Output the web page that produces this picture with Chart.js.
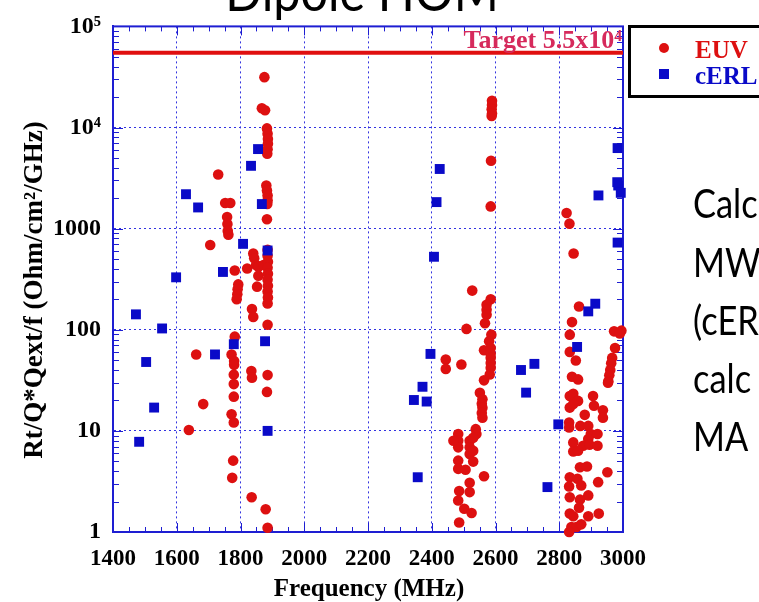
<!DOCTYPE html>
<html>
<head>
<meta charset="utf-8">
<script src="https://cdn.jsdelivr.net/npm/chart.js@4.4.1/dist/chart.umd.min.js"></script>
<style>
html, body { margin: 0; padding: 0; background: #fff; overflow: hidden; }
#homChart { display: block; }
</style>
</head>
<body>
<canvas id="homChart" width="759" height="602"></canvas>
<script>
// EUV (red dots) - frequency in MHz, Rt/Q*Qext/f
var euvFreq = [
  1638,1683,1661,1705,1730,1752,1768,1758,1759,1760,1762,1782,1793,1791,1790,1788,1782,1772,1780,1780,1779,1779,1779,1772,1779,1777,1774,
  1835,1879,1885,1834,1836,1885,1883,1885,1836,1840,1840,1843,1849,1821,1856,1856,1852,1872,
  1885,1885,1886,1885,1886,1885,1886,1885,1886,1885,
  1875,1867,1877,1883,1885,1886,1886,1885,1884,1881,1883,1885,1885,1884,1883,
  2527,2585,2572,2572,2572,2567,2509,2587,2580,2564,2585,2585,2585,2585,2585,2444,2444,2493,2582,2564,2551,2559,2557,2559,2557,2559,
  2538,2540,2483,2483,2483,2468,2519,2519,2519,2530,2530,2483,2530,2483,2506,2564,2519,2486,2519,2483,2502,2525,2486,
  2589,2589,2588,2589,2588,2586,2585,
  2823,2832,2845,2862,2840,2833,2833,2852,2840,2859,2833,2844,2859,2833,2844,2831,2831,2866,2880,2891,2899,2920,2906,2909,2937,2937,
  2844,2891,2875,2844,2895,2920,2859,2865,2887,2833,2857,2831,2922,2951,2869,2833,2891,2865,2862,2833,2924,2891,2844,2838,2854,2831,2869,
  2972,2995,2990,2975,2966,2963,2960,2957,2954,2953
];
var euvVal = [
  10.2,18.4,57,690,3430,1790,1790,1300,1110,950,870,386,281,251,224,200,85.5,57,49,45,36,29,21.8,14.6,12.1,5.08,3.43,
  2.21,1.68,1.1,39,33.5,35.6,24.3,112,160,134,568,510,437,404,420,343,267,437,
  618,539,470,410,359,313,273,239,208,182,
  31500,15500,14800,9800,8700,7700,6900,6100,5500,2670,2380,2130,1900,1750,1240,
  244,200,177,158,141,116,102,89.5,77,62.7,66,58,52.8,47,42,50.8,41,45.4,36.2,31.6,23.8,20.6,18.5,16.9,15,13.5,
  10.4,9.3,9.3,8.0,6.87,8.0,8.0,6.9,5.9,6.37,8.55,5.08,4.97,4.21,4.12,3.56,3.07,2.54,2.48,2.05,1.70,1.54,1.24,
  18400,16700,15200,13800,13000,4700,1660,
  1426,1120,568,170,119,89.5,60.4,49.7,34.3,32.3,22.1,23.3,19.8,17,18.4,12.1,10.8,11.2,14.4,11.2,9.3,9.3,22.1,17.7,16.0,13.5,
  7.69,8.3,7.13,6.27,7.3,7.13,6.37,4.37,4.44,3.48,3.36,2.82,3.11,3.9,2.89,2.21,2.3,2.09,1.74,1.52,1.52,1.43,1.43,1.12,1.12,1.0,1.19,
  96.4,98,92,66,52.7,46.6,40.1,35.4,31,29.9
];

// cERL (blue squares)
var cerlFreq = [
  1472,1504,1554,1529,1482,1598,1629,1667,1720,1745,1779,1808,1833,1855,1867,1885,1877,1885,
  2425,2415,2407,2396,2371,2344,2384,2356,
  2680,2722,2696,2797,2763,2856,2891,2913,2923,2983,2985,2993,2982,2983
];
var cerlVal = [
  142,48,103,17,7.8,330,2190,1620,57,373,72,707,4180,6120,1750,608,77,10.0,
  3890,1830,527,57.7,27.3,20.2,19.5,3.48,
  40,46,23.9,11.6,2.78,67.6,152,181,2130,6260,2670,2260,2880,728
];

// design target
var targetFreq = [1400, 3000];
var targetVal = [55000, 55000];

// axes
var xTicks = [1400, 1600, 1800, 2000, 2200, 2400, 2600, 2800, 3000];
var yTicks = [1, 10, 100, 1000, 10000, 100000];
var yLabels = ['1', '10', '100', '1000', '10\u2074', '10\u2075'];

var serif = '"Liberation Serif", "Times New Roman", serif';
var axisBlue = '#1e1ed2';
var gridBlue = '#3232e0';
var euvRed = '#dd1010';
var cerlBlue = '#0a0ac8';

function toPoints(xs, ys) {
  return xs.map(function(x, i) { return { x: x, y: ys[i] }; });
}

// frame + inward minor ticks like the original plot
var frameTicks = {
  id: 'frameTicks',
  beforeDatasetsDraw: function(chart) {
    var ctx = chart.ctx, ca = chart.chartArea;
    var xs = chart.scales.x, ys = chart.scales.y;
    ctx.save();
    ctx.strokeStyle = axisBlue;
    ctx.lineWidth = 1;
    ctx.beginPath();
    for (var f = 1400; f <= 3000; f += 50) {
      var px = Math.round(xs.getPixelForValue(f)) + 0.5;
      var len = (f % 200 === 0) ? 9 : 5;
      ctx.moveTo(px, ca.bottom); ctx.lineTo(px, ca.bottom - len);
      ctx.moveTo(px, ca.top); ctx.lineTo(px, ca.top + len);
    }
    for (var k = 0; k < 5; k++) {
      for (var m = 1; m < 10; m++) {
        var py = Math.round(ys.getPixelForValue(m * Math.pow(10, k))) + 0.5;
        var l2 = (m === 1) ? 10 : 6;
        ctx.moveTo(ca.left, py); ctx.lineTo(ca.left + l2, py);
        ctx.moveTo(ca.right, py); ctx.lineTo(ca.right - l2, py);
      }
    }
    ctx.stroke();
    ctx.lineWidth = 2;
    ctx.strokeRect(ca.left, ca.top, ca.right - ca.left, ca.bottom - ca.top);
    ctx.restore();
  },
  afterDraw: function(chart) {
    var ctx = chart.ctx, ca = chart.chartArea;
    var ys = chart.scales.y;
    ctx.save();

    // target label
    ctx.fillStyle = '#d62a5c';
    ctx.font = 'bold 26px ' + serif;
    ctx.textAlign = 'right';
    ctx.textBaseline = 'alphabetic';
    ctx.fillText('Target 5.5x10\u2074', ca.right - 1, ys.getPixelForValue(targetVal[0]) - 5);

    // axis titles
    ctx.fillStyle = '#000';
    ctx.textAlign = 'center';
    ctx.font = 'bold 25px ' + serif;
    ctx.fillText('Frequency (MHz)', 369, 596);
    ctx.save();
    ctx.translate(35, 290);
    ctx.rotate(-Math.PI / 2);
    ctx.textBaseline = 'middle';
    ctx.font = 'bold 27px ' + serif;
    ctx.fillText('Rt/Q*Qext/f (Ohm/cm\u00b2/GHz)', 0, 0);
    ctx.restore();

    // legend box
    ctx.lineWidth = 3;
    ctx.strokeStyle = '#000';
    ctx.strokeRect(629.5, 26.5, 150, 70);
    ctx.fillStyle = euvRed;
    ctx.beginPath(); ctx.arc(664, 48, 5, 0, Math.PI * 2); ctx.fill();
    ctx.fillStyle = cerlBlue;
    ctx.fillRect(659, 69, 10, 10);
    ctx.font = 'bold 25px ' + serif;
    ctx.textAlign = 'left';
    ctx.textBaseline = 'alphabetic';
    ctx.fillStyle = euvRed;
    ctx.fillText('EUV', 695, 58);
    ctx.fillStyle = cerlBlue;
    ctx.fillText('cERL', 695, 84);

    // slide text around the plot
    ctx.fillStyle = '#000';
    ctx.save();
    ctx.translate(362, 11);
    ctx.scale(0.9, 1);
    ctx.textAlign = 'center';
    ctx.font = '54px Lato, "Open Sans", sans-serif';
    ctx.fillText('Dipole HOM', 0, 0);
    ctx.restore();

    var side = ['Calc', 'MW', '(cER', 'calc', 'MA'];
    var base = [218, 277, 335, 393, 451];
    ctx.font = '41px Lato, "Open Sans", sans-serif';
    side.forEach(function(s, i) {
      ctx.save();
      ctx.translate(693, base[i]);
      ctx.scale(0.84, 1);
      ctx.fillText(s, 0, 0);
      ctx.restore();
    });
    ctx.restore();
  }
};

new Chart(document.getElementById('homChart'), {
  type: 'scatter',
  data: {
    datasets: [
      {
        label: 'cERL',
        data: toPoints(cerlFreq, cerlVal),
        pointStyle: 'rect',
        pointRadius: 7,
        borderWidth: 0,
        backgroundColor: cerlBlue,
        borderColor: cerlBlue,
        clip: false,
        order: 0
      },
      {
        label: 'EUV',
        data: toPoints(euvFreq, euvVal),
        pointStyle: 'circle',
        pointRadius: 5.3,
        borderWidth: 0,
        backgroundColor: euvRed,
        borderColor: euvRed,
        clip: false,
        order: 1
      },
      {
        type: 'line',
        label: 'Target',
        data: toPoints(targetFreq, targetVal),
        borderColor: '#e01010',
        borderWidth: 4,
        pointRadius: 0,
        fill: false,
        order: 2
      }
    ]
  },
  options: {
    responsive: false,
    animation: false,
    events: [],
    layout: { padding: { left: 0, top: 23, right: 136, bottom: 0 } },
    plugins: {
      legend: { display: false },
      tooltip: { enabled: false }
    },
    scales: {
      x: {
        type: 'linear',
        min: 1400,
        max: 3000,
        afterBuildTicks: function(scale) {
          scale.ticks = xTicks.map(function(v) { return { value: v }; });
        },
        afterFit: function(scale) { scale.height = 70; },
        ticks: {
          color: '#000',
          padding: 13,
          maxRotation: 0,
          font: { family: serif, weight: 'bold', size: 23 },
          callback: function(v) { return String(v); }
        },
        grid: {
          drawTicks: false,
          lineWidth: 1,
          color: function(c) {
            var v = c.tick ? c.tick.value : null;
            return (v === 1400 || v === 3000) ? 'rgba(0,0,0,0)' : gridBlue;
          }
        },
        border: { display: true, color: axisBlue, width: 2, dash: [2, 3] }
      },
      y: {
        type: 'logarithmic',
        min: 1,
        max: 100000,
        afterBuildTicks: function(scale) {
          scale.ticks = yTicks.map(function(v) { return { value: v, major: true }; });
        },
        afterFit: function(scale) { scale.width = 113; },
        ticks: {
          color: '#000',
          padding: 12,
          font: { family: serif, weight: 'bold', size: 24 },
          callback: function(v, i) { return yLabels[i]; }
        },
        grid: {
          drawTicks: false,
          lineWidth: 1,
          color: function(c) {
            var v = c.tick ? c.tick.value : null;
            return (v === 1 || v === 100000) ? 'rgba(0,0,0,0)' : gridBlue;
          }
        },
        border: { display: true, color: axisBlue, width: 2, dash: [2, 3] }
      }
    }
  },
  plugins: [frameTicks]
});
</script>
</body>
</html>
